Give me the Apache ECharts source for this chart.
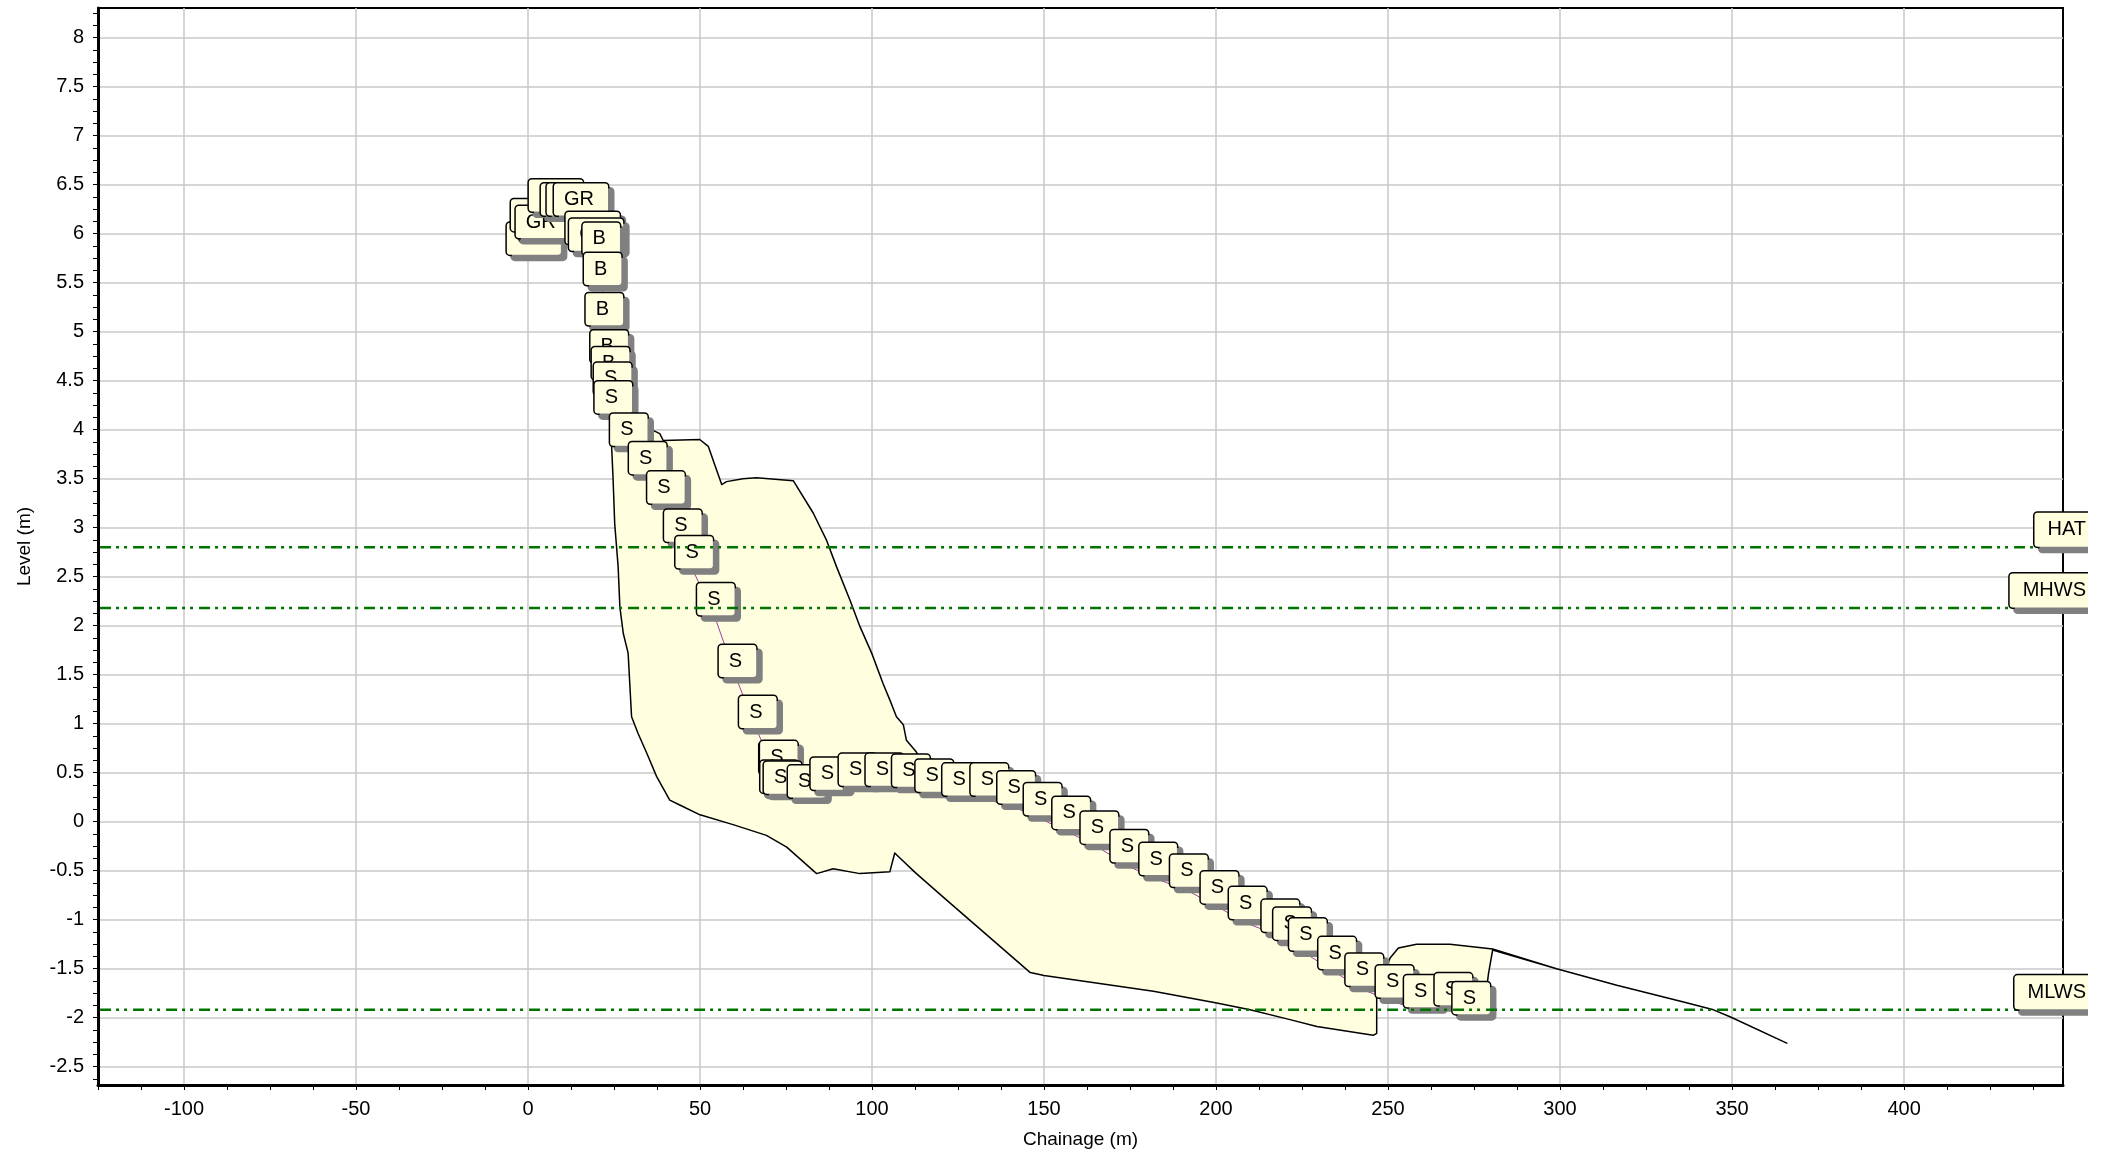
<!DOCTYPE html>
<html>
<head>
<meta charset="utf-8">
<title>Beach profile</title>
<script src="https://cdn.jsdelivr.net/npm/echarts@6/dist/echarts.min.js"></script>
<style>
  html, body { margin: 0; padding: 0; background: #ffffff; }
  #chart { width: 2112px; height: 1154px; }
</style>
</head>
<body>
<div id="chart"></div>
<script>
// ---- axis extents and tick labels ----
const X_MIN = -125, X_MAX = 446.2;
const Y_MIN = -2.687, Y_MAX = 8.303;
const xLabelValues = [-100, -50, 0, 50, 100, 150, 200, 250, 300, 350, 400];
const yLabelValues = [-2.5, -2, -1.5, -1, -0.5, 0, 0.5, 1, 1.5, 2, 2.5, 3, 3.5, 4, 4.5, 5, 5.5, 6, 6.5, 7, 7.5, 8];
const X_TICK_STEP = 12.5, Y_TICK_STEP = 0.125;

// ---- surveyed profile (chainage m, level m, feature code) ----
const profileChainage = [1.7, 2.9, 4.3, 8.1, 11.6, 13.3, 15.4, 18.8, 19.8,
  21.3, 21.7, 22.2, 23.6, 24.0,
  24.6, 24.8, 29.3, 34.8, 40.1, 45.0, 48.3, 54.6, 60.9, 66.8,
  72.7, 72.9, 73.0, 74.0, 81.0, 87.6, 95.8, 103.6, 111.3, 118.1,
  125.9, 134.1, 141.9, 149.6, 157.9, 166.1, 174.8, 183.2, 192.1, 201.0,
  209.2, 218.7, 222.1, 226.7, 235.2, 243.1, 251.9, 260.1, 269.0, 274.2];
const profileLevel = [5.74, 5.98, 5.91, 6.18, 6.14, 6.14, 6.14, 5.85, 5.78,
  5.74, 5.43, 5.02, 4.64, 4.47,
  4.31, 4.12, 3.79, 3.50, 3.20, 2.81, 2.54, 2.06, 1.43, 0.91,
  0.44, 0.45, 0.25, 0.24, 0.20, 0.28, 0.32, 0.32, 0.31, 0.26,
  0.22, 0.22, 0.14, 0.02, -0.12, -0.27, -0.46, -0.59, -0.71, -0.88,
  -1.04, -1.17, -1.25, -1.36, -1.55, -1.72, -1.84, -1.94, -1.92, -2.01];
const profileCode = ['GR', 'GR', 'GR', 'GR', 'GR', 'GR', 'GR', 'GR', 'GR',
  'B', 'B', 'B', 'B', 'B',
  'S', 'S', 'S', 'S', 'S', 'S', 'S', 'S', 'S', 'S',
  'S', 'S', 'S', 'S', 'S', 'S', 'S', 'S', 'S', 'S',
  'S', 'S', 'S', 'S', 'S', 'S', 'S', 'S', 'S', 'S',
  'S', 'S', 'S', 'S', 'S', 'S', 'S', 'S', 'S', 'S'];

// ---- historic envelope outline (closed polygon, chainage m / level m) ----
const envelopeChainage = [24.6, 30.0, 36.5, 38.3, 39.3, 49.9, 52.4, 54.3, 56.3, 57.7, 62.5, 66.4, 77.1,
  82.9, 86.8, 89.7, 93.6, 96.5, 99.9, 103.2, 105.2, 107.1, 109.1, 110.0, 112.9,
  116.5, 118.1, 125.9, 134.1, 141.9, 149.6, 157.9, 166.1, 174.8, 183.2, 192.1, 201.0,
  209.2, 218.7, 222.1, 226.7, 235.2, 243.1, 247.5,
  250.6, 253.0, 258.3, 268.0, 280.4,
  299.0, 316.5, 335.9, 344.6, 349.4, 365.9,
  349.4, 344.6, 335.9, 316.5, 299.0, 280.4,
  279.2, 278.5, 274.2, 269.0, 260.1, 251.9, 246.7, 246.7, 245.7,
  229.3, 221.5, 209.9, 200.2, 181.8, 150.0, 146.0, 121.7, 112.9, 108.1, 106.6, 105.2,
  96.5, 88.7, 83.9, 75.2, 69.3, 59.6, 50.0, 44.1, 41.2, 37.4, 34.5, 32.0, 30.1,
  29.1, 27.7, 26.7, 26.2, 25.2, 24.7, 24.3];
const envelopeLevel = [4.05, 4.00, 3.99, 3.96, 3.89, 3.90, 3.83, 3.64, 3.44, 3.47, 3.50, 3.51, 3.48,
  3.15, 2.87, 2.60, 2.26, 1.99, 1.72, 1.41, 1.24, 1.07, 0.99, 0.83, 0.71,
  0.45, 0.36, 0.32, 0.32, 0.24, 0.12, -0.02, -0.17, -0.36, -0.49, -0.61, -0.78,
  -0.94, -1.07, -1.15, -1.26, -1.45, -1.62, -1.66,
  -1.39, -1.29, -1.25, -1.25, -1.30,
  -1.50, -1.67, -1.84, -1.92, -1.99, -2.26,
  -1.99, -1.92, -1.84, -1.67, -1.50, -1.31,
  -1.55, -1.75, -1.97, -1.88, -1.90, -1.80, -1.75, -2.16, -2.18,
  -2.09, -2.02, -1.92, -1.85, -1.73, -1.57, -1.54, -0.80, -0.53, -0.37, -0.32, -0.51,
  -0.53, -0.48, -0.53, -0.26, -0.14, -0.03, 0.07, 0.17, 0.22, 0.46, 0.70, 0.90, 1.07,
  1.72, 1.92, 2.19, 2.60, 3.04, 3.52, 3.83];

// ---- tide levels ----
const tideNames = ['HAT', 'MHWS', 'MLWS'];
const tideLevels = [2.80, 2.18, -1.92];

// ---- helpers ----
function stepValues(from, to, step) {
  const out = [];
  for (let v = from; v <= to + 1e-9; v += step) out.push(+v.toFixed(4));
  return out;
}
const xTickValues = stepValues(-125, 437.5, X_TICK_STEP);
const yTickValues = stepValues(-2.625, 8.25, Y_TICK_STEP);

const FONT = "'Liberation Sans', Arial, sans-serif";
const boxLabel = {
  color: '#000',
  fontFamily: FONT,
  fontSize: 20,
  lineHeight: 20,
  backgroundColor: '#FFFFE0',
  borderColor: '#000',
  borderWidth: 1.5,
  borderRadius: 3,
  padding: [6, 14, 6, 10],
  shadowColor: '#808080',
  shadowBlur: 0,
  shadowOffsetX: 5,
  shadowOffsetY: 5
};

const chart = echarts.init(document.getElementById('chart'), null, { renderer: 'canvas' });

const tideLineSeries = tideLevels.map((v, i) => ({
  type: 'line',
  name: tideNames[i],
  data: [[X_MIN + 0.6, v], [X_MAX, v]],
  symbol: 'none',
  z: 10,
  silent: true,
  lineStyle: { color: '#007400', width: 2.5, opacity: 1, type: [11, 5, 3, 5, 3, 6] }
}));

const option = {
  animation: false,
  backgroundColor: '#ffffff',
  grid: {
    left: 98, right: 49, top: 8, bottom: 69,
    show: true, borderColor: '#000', borderWidth: 2, backgroundColor: 'transparent',
    containLabel: false, outerBoundsMode: 'none'
  },
  xAxis: [
    {
      type: 'value', min: X_MIN, max: X_MAX, position: 'bottom', z: 20,
      axisLine: { show: true, onZero: false, lineStyle: { color: '#000', width: 3 } },
      axisTick: { show: true, length: 5, customValues: xTickValues, lineStyle: { color: '#000', width: 1 } },
      axisLabel: { show: true, customValues: xLabelValues, margin: 14, color: '#000',
        fontFamily: FONT, fontSize: 20, formatter: v => String(v) },
      splitLine: { show: false },
      name: 'Chainage (m)', nameLocation: 'middle', nameGap: 45, nameMoveOverlap: false,
      nameTextStyle: { color: '#000', fontFamily: FONT, fontSize: 19 }
    },
    {
      type: 'value', min: X_MIN, max: X_MAX, position: 'top',
      axisLine: { show: false }, axisLabel: { show: false },
      axisTick: { show: false, customValues: xLabelValues },
      splitLine: { show: true, lineStyle: { color: '#C8C8C8', width: 1.5 } }
    }
  ],
  yAxis: [
    {
      type: 'value', min: Y_MIN, max: Y_MAX, position: 'left', z: 20,
      axisLine: { show: true, onZero: false, lineStyle: { color: '#000', width: 3 } },
      axisTick: { show: true, length: 5, customValues: yTickValues, lineStyle: { color: '#000', width: 1 } },
      axisLabel: { show: true, customValues: yLabelValues, margin: 14, color: '#000',
        fontFamily: FONT, fontSize: 20, formatter: v => String(v) },
      splitLine: { show: false },
      name: 'Level (m)', nameLocation: 'middle', nameGap: 64, nameRotate: 90, nameMoveOverlap: false,
      nameTextStyle: { color: '#000', fontFamily: FONT, fontSize: 19 }
    },
    {
      type: 'value', min: Y_MIN, max: Y_MAX, position: 'right',
      axisLine: { show: false }, axisLabel: { show: false },
      axisTick: { show: false, customValues: yLabelValues },
      splitLine: { show: true, lineStyle: { color: '#C8C8C8', width: 1.5 } }
    }
  ],
  series: [
    // envelope of past profiles
    {
      type: 'custom',
      z: 2,
      silent: true,
      clip: true,
      data: envelopeChainage.map((c, i) => [c, envelopeLevel[i]]),
      renderItem(params, api) {
        if (params.dataIndex !== 0) return null;
        const pts = envelopeChainage.map((c, i) => api.coord([c, envelopeLevel[i]]));
        return {
          type: 'polygon',
          shape: { points: pts },
          style: { fill: '#FFFFE0', stroke: '#000', lineWidth: 1.5, lineJoin: 'round' }
        };
      }
    },
    // current profile with feature codes
    {
      type: 'line',
      z: 3,
      data: profileChainage.map((c, i) => [c, profileLevel[i]]),
      symbol: 'circle',
      symbolSize: 1,
      itemStyle: { color: '#A03CA0', opacity: 1 },
      lineStyle: { color: '#A03CA0', width: 1 },
      label: Object.assign({
        show: true, position: 'top', distance: 4,
        formatter: p => profileCode[p.dataIndex]
      }, boxLabel),
      labelLayout: { hideOverlap: false }
    },
    ...tideLineSeries,
    // tide level tags at the right edge
    {
      type: 'scatter',
      z: 11,
      clip: false,
      silent: true,
      data: tideLevels.map((v, i) => ({ name: tideNames[i], value: [X_MAX, v] })),
      symbolSize: 1,
      itemStyle: { color: 'rgba(255,255,255,0)', opacity: 1 },
      label: Object.assign({
        show: true, position: 'top', distance: 0, align: 'right', offset: [37, 0],
        formatter: p => p.name
      }, boxLabel, { padding: [7, 14, 7, 13] })
    }
  ],
  graphic: [
    { type: 'rect', z: 100, silent: true, shape: { x: 2088, y: 0, width: 24, height: 1154 }, style: { fill: '#ffffff' } }
  ]
};

chart.setOption(option);
</script>
</body>
</html>
